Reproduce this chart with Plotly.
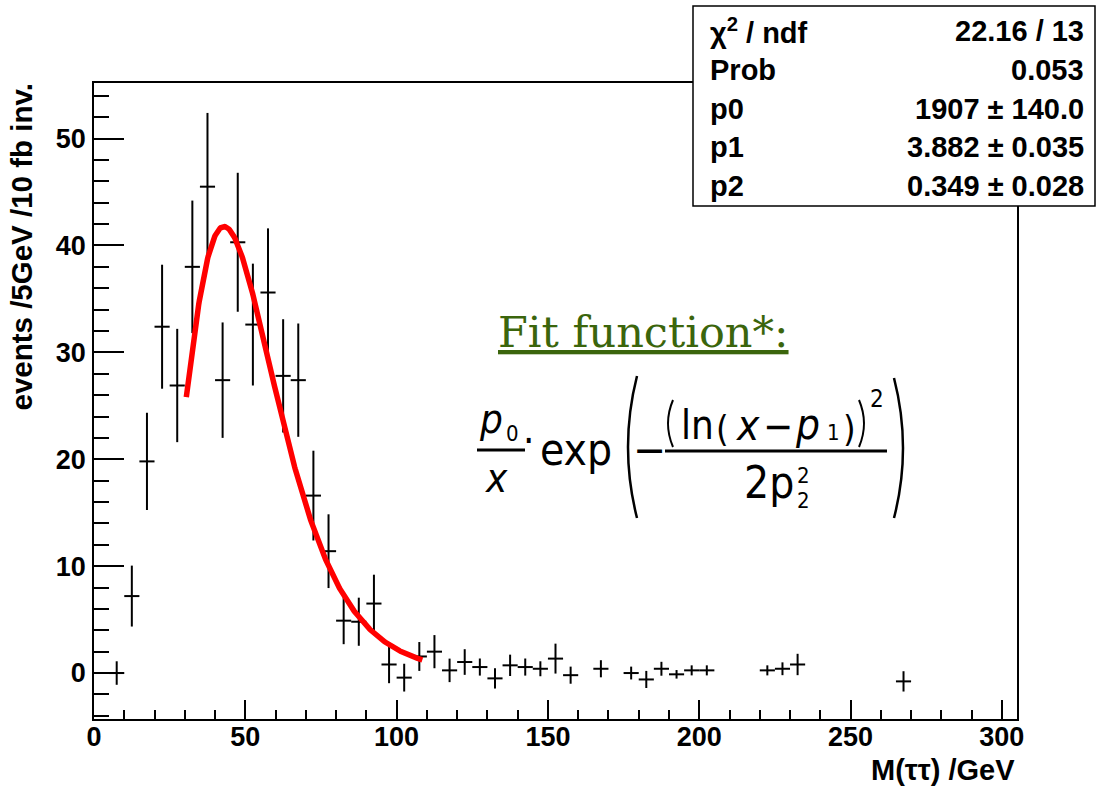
import numpy as np
import plotly.graph_objects as go

# ---- histogram: events per 5 GeV bin (bin centres, contents, errors) ----
mass_gev = [7.5, 12.5, 17.5, 22.5, 27.5, 32.5, 37.5, 42.5, 47.5, 52.5, 57.5,
            62.5, 67.5, 72.5, 77.5, 82.5, 87.5, 92.5, 97.5, 102.5, 107.5,
            112.5, 117.5, 122.5, 127.5, 132.5, 137.5, 142.5, 147.5, 152.5,
            157.5, 167.5, 177.5, 182.5, 187.5, 192.5, 197.5, 202.5, 222.5,
            227.5, 232.5, 267.5]
events = [0.0, 7.2, 19.8, 32.4, 26.9, 38.0, 45.5, 27.4, 40.3, 32.6, 35.6,
          27.8, 27.4, 16.6, 11.4, 4.9, 4.8, 6.5, 0.8, -0.43, 1.55,
          2.0, 0.25, 1.03, 0.56, -0.5, 0.72, 0.56, 0.4, 1.35,
          -0.2, 0.4, 0.0, -0.6, 0.4, -0.12, 0.25, 0.25, 0.25,
          0.4, 0.8, -0.78]
events_err = [1.1, 2.85, 4.55, 5.8, 5.3, 6.2, 6.9, 5.4, 6.5, 5.7, 6.0,
              5.3, 5.3, 4.2, 3.45, 2.2, 2.25, 2.7, 1.75, 1.3, 1.35,
              1.55, 1.1, 1.2, 0.8, 0.95, 1.0, 0.8, 0.7, 1.4,
              0.8, 0.8, 0.6, 0.8, 0.65, 0.4, 0.47, 0.47, 0.47,
              0.6, 1.0, 0.95]
bin_half_width = 2.5

# ---- fit result (log-normal) ----
fit_p0, fit_p0_err = 1907.0, 140.0
fit_p1, fit_p1_err = 3.882, 0.035
fit_p2, fit_p2_err = 0.349, 0.028
chi2, ndf, prob = 22.16, 13, 0.053
fit_range = (30.5, 108.5)

x_ticks = [0, 50, 100, 150, 200, 250, 300]
y_ticks = [0, 10, 20, 30, 40, 50]

fit_x = np.linspace(fit_range[0], fit_range[1], 400)
fit_y = fit_p0 / fit_x * np.exp(-(np.log(fit_x) - fit_p1) ** 2 / (2 * fit_p2 ** 2))

W, H = 1097, 786
L, R, T, B = 94, 1017, 83, 719   # frame edges in pixels


def px(x):
    return (x - L) / (R - L)


def py(y):
    return (B - y) / (B - T)


fig = go.Figure()

fig.add_trace(go.Scatter(
    x=mass_gev, y=events, mode="markers",
    marker=dict(size=0, color="rgba(0,0,0,0)", line=dict(width=0)),
    error_y=dict(type="data", array=events_err, width=0, thickness=2, color="black"),
    error_x=dict(type="constant", value=bin_half_width, width=0, thickness=2, color="black"),
    showlegend=False, hoverinfo="x+y",
))

fig.add_trace(go.Scatter(
    x=fit_x, y=fit_y, mode="lines",
    line=dict(color="#ff0000", width=5.5),
    showlegend=False,
))

axis_font = dict(family="Liberation Sans, Arial, sans-serif", size=27, color="black", weight="bold")

fig.update_layout(
    width=W, height=H,
    margin=dict(l=L, r=W - R, t=T, b=H - B, pad=0),
    paper_bgcolor="white", plot_bgcolor="white",
    xaxis=dict(
        range=[0, 305], tickvals=x_ticks, ticks="inside", ticklen=19, tickwidth=1.5,
        tickcolor="black", showline=True, linecolor="black", linewidth=1.5, mirror=True,
        showgrid=False, zeroline=False, tickfont=axis_font, ticklabelstandoff=-7,
        minor=dict(ticks="inside", ticklen=9, dtick=10, tick0=0, tickwidth=1.5, tickcolor="black"),
    ),
    yaxis=dict(
        range=[-4.3, 55.2], tickvals=y_ticks, ticks="inside", ticklen=30, tickwidth=1.5,
        tickcolor="black", showline=True, linecolor="black", linewidth=1.5, mirror=True,
        showgrid=False, zeroline=False, tickfont=axis_font, ticklabelstandoff=1,
        minor=dict(ticks="inside", ticklen=15, dtick=2, tick0=0, tickwidth=1.5, tickcolor="black"),
    ),
)

annotations = []
shapes = []

# axis titles
annotations.append(dict(
    text="M(ττ) /GeV", xref="paper", yref="paper", x=px(1017), y=py(770),
    xanchor="right", yanchor="middle", showarrow=False,
    font=dict(family="Liberation Sans, Arial, sans-serif", size=29, color="black", weight="bold"),
))
annotations.append(dict(
    text="events /5GeV /10 fb inv.", xref="paper", yref="paper", x=px(21), y=py(82),
    xanchor="center", yanchor="top", textangle=-90, showarrow=False,
    font=dict(family="Liberation Sans, Arial, sans-serif", size=29.5, color="black", weight="bold"),
))

# statistics box
shapes.append(dict(type="rect", xref="paper", yref="paper",
                   x0=px(693), x1=px(1095), y0=py(206), y1=py(6),
                   fillcolor="white", line=dict(color="black", width=1.5), layer="above"))
stat_rows = [
    ("χ<sup>2</sup> / ndf", f"{chi2:.2f} / {ndf}"),
    ("Prob", f"{prob:.3f}"),
    ("p0", f"{fit_p0:.0f} ± {fit_p0_err:.1f}"),
    ("p1", f"{fit_p1:.3f} ± {fit_p1_err:.3f}"),
    ("p2", f"{fit_p2:.3f} ± {fit_p2_err:.3f}"),
]
stat_font = dict(family="Liberation Sans, Arial, sans-serif", size=29, color="black", weight="bold")
for i, (name, val) in enumerate(stat_rows):
    yc = py(31 + 38.8 * i)
    annotations.append(dict(text=name, xref="paper", yref="paper", x=px(708), y=yc,
                            xanchor="left", yanchor="middle", showarrow=False, font=stat_font))
    annotations.append(dict(text=val, xref="paper", yref="paper", x=px(1086), y=yc,
                            xanchor="right", yanchor="middle", showarrow=False, font=stat_font))

# "Fit function*:" heading
annotations.append(dict(
    text="<u>Fit function*:</u>", xref="paper", yref="paper", x=px(496), y=py(332),
    xanchor="left", yanchor="middle", showarrow=False,
    font=dict(family="DejaVu Serif, serif", size=43, color="#3b650c"),
))

# formula p0/x · exp(-(ln(x - p1))^2 / (2 p2^2))
MATH = "DejaVu Sans Condensed, DejaVu Sans, sans-serif"


def glyph(text, xc, yc, size, anchor="center"):
    annotations.append(dict(text=text, xref="paper", yref="paper", x=px(xc), y=py(yc),
                            xanchor=anchor, yanchor="middle", showarrow=False,
                            font=dict(family=MATH, size=size, color="black")))


def hline(x0, x1, y, w=3):
    shapes.append(dict(type="line", xref="paper", yref="paper", x0=px(x0), x1=px(x1),
                       y0=py(y), y1=py(y), line=dict(color="black", width=w), layer="above"))


def paren(xe, ytop, ybot, bulge, w):
    xm = xe + 2 * bulge
    ym = (ytop + ybot) / 2
    path = f"M {px(xe)},{py(ytop)} Q {px(xm)},{py(ym)} {px(xe)},{py(ybot)}"
    shapes.append(dict(type="path", xref="paper", yref="paper", path=path,
                       line=dict(color="black", width=w), layer="above"))


glyph("<i>p</i>", 491, 419, 40)
glyph("0", 512, 434, 22)
hline(477, 525, 450)
glyph("<i>x</i>", 496, 478, 40)
glyph("·", 528, 441, 40)
glyph("exp", 538, 449, 44, anchor="left")
paren(637, 376, 518, -9, 2.5)
glyph("−", 649, 449, 44)
hline(665, 887, 451)
paren(673, 400, 447, -5, 2)
glyph("ln", 679, 425, 40, anchor="left")
glyph("(", 722, 428, 36)
glyph("<i>x</i>", 748, 425, 42)
glyph("−", 778, 426, 40)
glyph("<i>p</i>", 807, 424, 42)
glyph("1", 833, 432, 22)
glyph(")", 849, 428, 36)
paren(859, 400, 447, 5, 2)
glyph("2", 877, 399, 24)
glyph("2p", 742, 482, 44, anchor="left")
glyph("2", 803, 475, 22)
glyph("2", 803, 500, 22)
paren(894, 378, 518, 9, 2.5)

fig.update_layout(annotations=annotations, shapes=shapes)

fig.write_html("out.html")
